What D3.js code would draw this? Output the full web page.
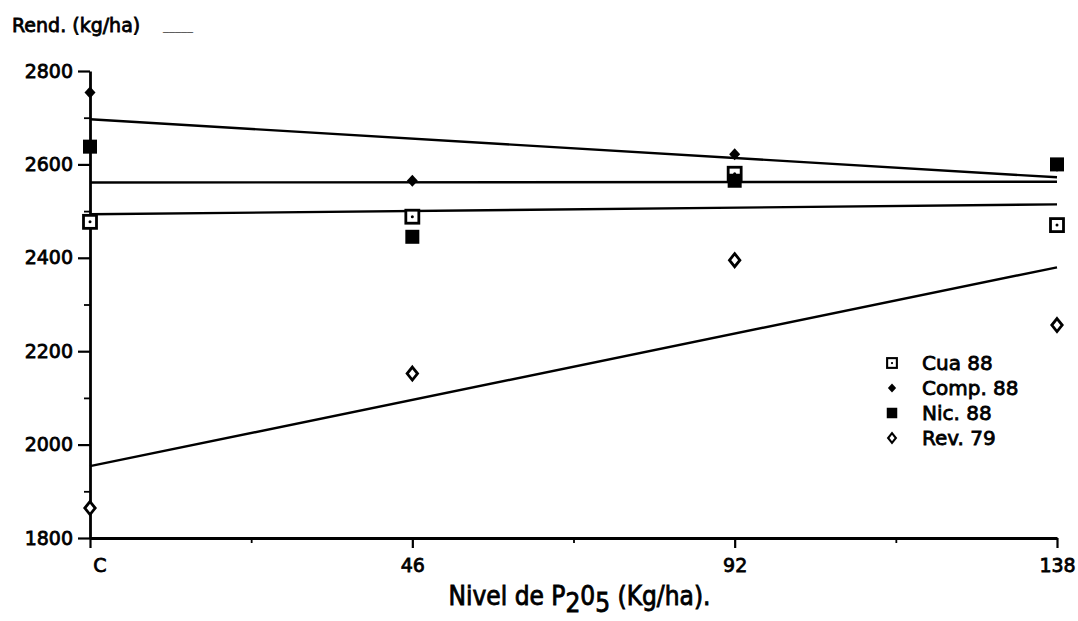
<!DOCTYPE html>
<html><head><meta charset="utf-8">
<script src="https://cdn.jsdelivr.net/npm/d3@7"></script>
<style>
body{margin:0;background:#fff}
svg text{font-family:"DejaVu Sans",sans-serif;fill:#000}
</style>
</head><body>
<svg id="c" width="1078" height="621"></svg>
<script>
// ---- data ----
const xLevels = [0, 46, 92, 138];
const xTickLabels = ["C", "46", "92", "138"];
const xMinorTicks = [23, 69, 115];
const yTicks = [1800, 2000, 2200, 2400, 2600, 2800];
const yTickLabels = ["1800", "2000", "2200", "2400", "2600", "2800"];
const yMinorTicks = [1900, 2100, 2300, 2500, 2700];
const seriesNames = ["Cua 88", "Comp. 88", "Nic. 88", "Rev. 79"];
const cua88  = [2477, 2488, 2580, 2470];
const comp88 = [2754, 2565, 2622, 2597];
const nic88  = [2638, 2445, 2565, 2600];
const rev79  = [1864, 2152, 2395, 2256];
const yTitle = "Rend. (kg/ha)";
const xTitleParts = [["Nivel de P", 0], ["2", 1], ["0", 0], ["5", 1], [" (Kg/ha).", 0]];

const seriesValues = [cua88, comp88, nic88, rev79];
const markerTypes = ["openSquare", "smallDiamond", "filledSquare", "openDiamond"];
const drawOrder = [3, 1, 0, 2];

// ---- layout ----
const svg = d3.select("#c");
const x = d3.scaleLinear().domain([0, 138]).range([90, 1057]);
const y = d3.scaleLinear().domain([1800, 2800]).range([538, 71]);
const TXT_STROKE = 0.8;

function marker(g, type, s) {
  if (type === "openSquare") {
    g.append("rect").attr("x", -6.5*s).attr("y", -6.5*s).attr("width", 13*s).attr("height", 13*s)
      .attr("fill", "#fff").attr("stroke", "#000").attr("stroke-width", 2.8*s);
    g.append("circle").attr("r", 1.5*s).attr("fill", "#000");
  } else if (type === "filledSquare") {
    g.append("rect").attr("x", -7*s).attr("y", -7*s).attr("width", 14*s).attr("height", 14*s)
      .attr("fill", "#000");
  } else if (type === "smallDiamond") {
    g.append("path").attr("d", `M0,${-6*s}L${5.5*s},0L0,${6*s}L${-5.5*s},0Z`).attr("fill", "#000");
  } else if (type === "openDiamond") {
    g.append("path").attr("d", `M0,${-6.5*s}L${5.2*s},0L0,${6.5*s}L${-5.2*s},0Z`)
      .attr("fill", "#fff").attr("stroke", "#000").attr("stroke-width", 2.8*s);
  }
}

function fit(vals) {
  const mx = d3.mean(xLevels), my = d3.mean(vals);
  let sxy = 0, sxx = 0;
  xLevels.forEach((xv, i) => { sxy += (xv - mx) * (vals[i] - my); sxx += (xv - mx) ** 2; });
  const b = sxy / sxx;
  return xv => my + b * (xv - mx);
}

// ---- regression lines ----
const xExt = d3.extent(xLevels);
const line = d3.line().x(d => x(d[0])).y(d => y(d[1]));
seriesValues.forEach(vals => {
  const f = fit(vals);
  svg.append("path").datum(xExt.map(v => [v, f(v)]))
    .attr("d", line).attr("fill", "none").attr("stroke", "#000").attr("stroke-width", 2.4);
});

// ---- axes ----
const yAxis = svg.append("g").attr("transform", `translate(${x(0)},0)`)
  .call(d3.axisLeft(y).tickValues(yTicks).tickSize(12).tickSizeOuter(0).tickPadding(5)
    .tickFormat((d, i) => yTickLabels[i]));
const yMinor = svg.append("g").attr("transform", `translate(${x(0)},0)`)
  .call(d3.axisLeft(y).tickValues(yMinorTicks).tickSize(6).tickSizeOuter(0).tickFormat(""));
yMinor.select(".domain").remove();

const xAxis = svg.append("g").attr("transform", `translate(0,${y(1800)})`)
  .call(d3.axisBottom(x).tickValues(xLevels).tickSize(10).tickSizeOuter(0).tickPadding(11)
    .tickFormat((d, i) => xTickLabels[i]));
const xMinor = svg.append("g").attr("transform", `translate(0,${y(1800)})`)
  .call(d3.axisBottom(x).tickValues(xMinorTicks).tickSize(5).tickSizeOuter(0).tickFormat(""));
xMinor.select(".domain").remove();
xAxis.selectAll(".tick text").filter((d, i) => i === 0).attr("dx", "0.5em");

[yAxis, xAxis].forEach(a => {
  a.select(".domain").attr("stroke", "#000").attr("stroke-width", 2.8);
  a.selectAll(".tick line").attr("stroke", "#000").attr("stroke-width", 2.2);
  a.selectAll(".tick text").attr("font-family", "DejaVu Sans").attr("font-size", 19)
    .attr("fill", "#000").attr("stroke", "#000").attr("stroke-width", TXT_STROKE);
});
[yMinor, xMinor].forEach(a => a.selectAll(".tick line").attr("stroke", "#000").attr("stroke-width", 1.8));

// ---- points ----
drawOrder.forEach(si => {
  seriesValues[si].forEach((v, i) => {
    const g = svg.append("g").attr("transform", `translate(${x(xLevels[i])},${y(v)})`);
    marker(g, markerTypes[si], 1);
  });
});

// ---- titles ----
svg.append("text").attr("x", 12).attr("y", 32).attr("font-size", 19)
  .attr("stroke", "#000").attr("stroke-width", TXT_STROKE).text(yTitle);
svg.append("text").attr("x", 163).attr("y", 30).attr("font-size", 12)
  .style("fill", "#555").text("_____");

const xt = svg.append("text").attr("x", (x(0) + x(138)) / 2 + 6).attr("y", 605)
  .attr("text-anchor", "middle").attr("font-size", 26)
  .style("font-family", "'DejaVu Sans Condensed','DejaVu Sans',sans-serif")
  .attr("stroke", "#000").attr("stroke-width", TXT_STROKE);
xTitleParts.forEach(([t, sub], k) => {
  const ts = xt.append("tspan").text(t);
  if (sub) ts.attr("dy", 7);
  else if (k > 0) ts.attr("dy", -7);
});

// ---- legend ----
const leg = svg.append("g").attr("transform", "translate(892,363)");
seriesNames.forEach((name, i) => {
  const g = leg.append("g").attr("transform", `translate(0,${i * 25})`);
  marker(g, markerTypes[i], 0.75);
  g.append("text").attr("x", 30).attr("y", 0).attr("dy", "0.36em").attr("font-size", 20)
    .attr("stroke", "#000").attr("stroke-width", TXT_STROKE).text(name);
});
</script>
</body></html>
